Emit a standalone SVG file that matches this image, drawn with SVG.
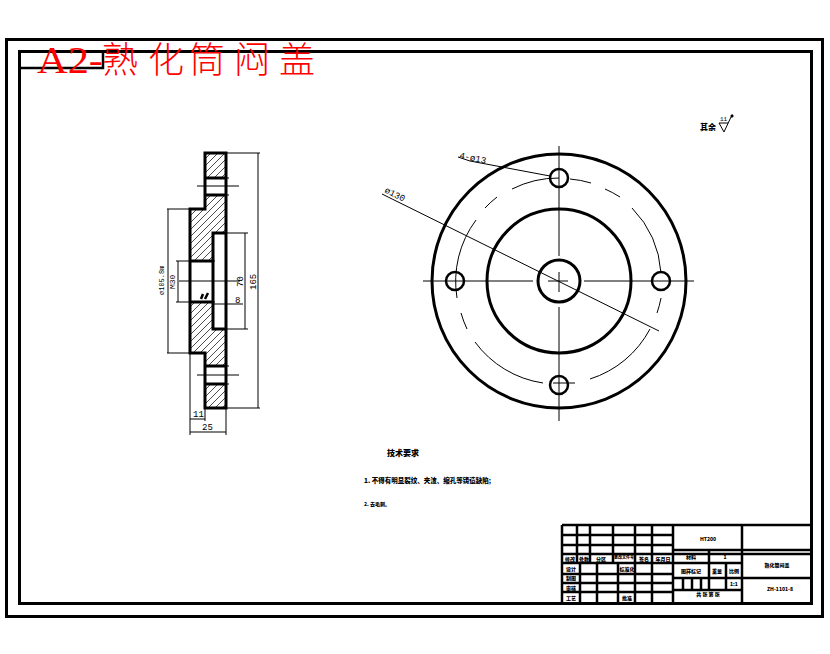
<svg xmlns="http://www.w3.org/2000/svg" width="830" height="654" viewBox="0 0 830 654">
<style>
.k{fill:none;stroke:#000;stroke-width:3}
.m{fill:none;stroke:#000;stroke-width:2.5}
.t{fill:none;stroke:#000;stroke-width:1}
.d{font-family:"Liberation Mono","DejaVu Sans Mono",monospace;font-size:9px;fill:#000}
.c{font-family:"Noto Sans CJK SC",sans-serif;font-weight:900;fill:#000;text-anchor:middle;font-size:5px}
.l{font-family:"Noto Sans CJK SC",sans-serif;font-weight:900;fill:#000}
.h{fill:url(#hatch);stroke:none}
</style>
<defs>
<pattern id="hatch" patternUnits="userSpaceOnUse" width="7" height="7">
<path d="M-1,8 L8,-1" stroke="#000" stroke-width="0.7" fill="none"/>
</pattern>
</defs>
<rect width="830" height="654" fill="#fff"/>
<g id="frame">
<rect class="k" x="6.5" y="39.5" width="816" height="577"/>
<rect class="k" x="19.5" y="51.5" width="792" height="552"/>
<path class="m" d="M19.5,68 H103 V51.5"/>
</g>
<g id="section-view">
<path class="h" d="M205,153H226V178H205Z"/>
<path class="h" d="M205,195H226V233H213V261H190V209H205Z"/>
<path class="h" d="M190,302H213V329H226V366H205V353H190Z"/>
<path class="h" d="M205,384H226V408H205Z"/>
<path class="k" d="M205,153H226V408H205V353H190V209H205Z"/>
<path class="k" d="M226,233H213V329H226"/>
<path class="k" d="M190,261H213M190,302H213M205,178H226M205,195H226M205,366H226M205,384H226"/>
<path class="t" d="M197,186H239M197,375H239M226,178H229M226,195H229M226,366H229M226,384H229"/>
</g>
<g id="plan-view">
<circle class="k" cx="559" cy="281" r="127"/>
<circle class="k" cx="559" cy="281" r="72"/>
<circle class="k" cx="559" cy="281" r="21"/>
<circle class="m" cx="559" cy="178" r="9"/>
<circle class="m" cx="559" cy="385" r="9"/>
<circle class="m" cx="455" cy="281" r="9"/>
<circle class="m" cx="661" cy="281" r="9"/>
</g>
<g id="connectors">
<path class="t" d="M167,209H190M167,353H190M168,209V353M176,261H215M176,302H215M178,261V302"/>
<path class="t" d="M179,281H240M213,304H243M213,233H248M213,329H248M245,233V329M226,153H260M226,408H260M258,153V408"/>
<path class="t" d="M190,353V435M226,408V435M205,408V421M190,419H205M190,432H226"/>
<path class="m" d="M201,299L203,294M205,299L208,293"/>
<path class="t" d="M423,281H533M548,281H568M584,281H694M559,146V256M559,272V292M559,307V421"/>
<path class="t" d="M458,157L470,161L550,176M382,194L659,331"/>
<path class="t" d="M476,220A103,103 0 0 0 457,298M485,208A103,103 0 0 1 497,197M512,189A103,103 0 0 1 559,178"/>
<path class="t" d="M461,313A103,103 0 0 0 467,329M475,342A103,103 0 0 0 543,383M553,383H575M590,379A103,103 0 0 0 650,329M657,313A103,103 0 0 0 661,298"/>
<path class="t" d="M570,179A103,103 0 0 1 591,183M605,189A103,103 0 0 1 620,197M632,208A103,103 0 0 1 661,273"/>
</g>
<g id="labels">
<text class="d" transform="translate(459,158) rotate(12)" font-size="8">4-ø13</text>
<text class="d" transform="translate(384,192) rotate(27)" font-size="8">ø130</text>
<text class="d" style="font-size:7px" transform="translate(164,295) rotate(-90)">ø105.8m</text>
<text class="d" style="font-size:8px" transform="translate(175,289) rotate(-90)">M30</text>
<text class="d" transform="translate(243,287) rotate(-90)">70</text>
<text class="d" transform="translate(256,290) rotate(-90)">165</text>
<text class="d" x="235" y="303">8</text>
<text class="d" x="193" y="417">11</text>
<text class="d" x="202" y="430">25</text>
<text class="l" x="700" y="130" font-size="8">其余</text>
<path class="t" d="M719,123H728M719,123L724,132L731,117"/>
<path class="m" d="M731,117L733,115"/>
<text class="d" style="font-size:6px" x="720" y="121">11</text>
<text class="l" x="387" y="456" font-size="8">技术要求</text>
<text class="l" x="364" y="483" font-size="6.5">1. 不得有明显裂纹、夹渣、缩孔等铸造缺陷;</text>
<text class="l" x="364" y="506" font-size="5">2. 去毛刺。</text>
</g>
<g id="title-block">
<path class="m" d="M562,525H812M562,535H673M562,545H673M562,554H812M562,563H742M562,574H673M562,583H673M562,592H673M673,550H812M673,578H812M673,590H742"/>
<path class="m" d="M562,525V603M673,525V603M742,525V603M577,525V563M590,525V563M613,525V563M635,525V603M652,525V603M580,563V603M597,563V603M618,563V603M709,550V590M726,563V590M683,578V590M692,578V590M701,578V590"/>
<text class="c" x="570" y="561">修改</text><text class="c" x="584" y="561">处数</text><text class="c" x="601" y="561">分区</text><text class="c" style="font-size:4px" x="624" y="559">更改文件号</text><text class="c" x="644" y="561">签名</text><text class="c" x="663" y="561">年月日</text>
<text class="c" x="571" y="571">设计</text><text class="c" x="627" y="571">标准化</text><text class="c" x="571" y="580">制图</text><text class="c" x="571" y="590">审核</text><text class="c" x="571" y="600">工艺</text><text class="c" x="627" y="600">批准</text>
<text class="c" x="708" y="541">HT200</text><text class="c" x="691" y="559">材料</text><text class="c" x="725" y="559">1</text>
<text class="c" x="691" y="573">图样标记</text><text class="c" x="717" y="573">重量</text><text class="c" x="734" y="573">比例</text><text class="c" x="734" y="586">1:1</text>
<text class="c" x="708" y="596">共 张 第 张</text>
<text class="c" x="777" y="567">熟化筒闷盖</text><text class="c" x="780" y="591">ZH-1101-8</text>
</g>
<text id="title" x="37" y="73" font-size="37" fill="#f00" textLength="66" lengthAdjust="spacingAndGlyphs" font-family="'Liberation Serif','Noto Sans CJK SC',serif">A2-</text>
<text id="title-cn" y="73" font-size="36" fill="#f00" font-family="'Noto Sans CJK SC',sans-serif" font-weight="300" x="102 148 189 234 279">熟化筒闷盖</text>
</svg>
